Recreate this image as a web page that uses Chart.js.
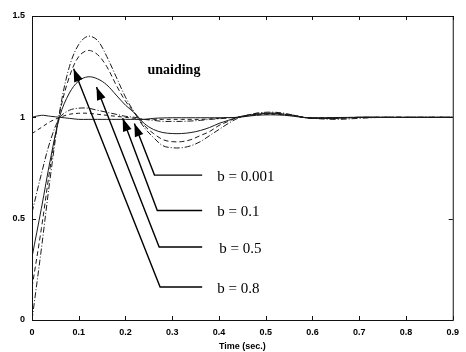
<!DOCTYPE html>
<html>
<head>
<meta charset="utf-8">
<script src="https://cdn.jsdelivr.net/npm/chart.js@4/dist/chart.umd.min.js"></script>
<style>
  html, body { margin: 0; padding: 0; background: #fff; }
  #wrap { width: 466px; height: 352px; }
</style>
</head>
<body>
<div id="wrap"><canvas id="respChart" width="466" height="352"></canvas></div>
<script>
// time axis (sec.)
const times = [0, 0.02, 0.04, 0.06, 0.08, 0.10, 0.12, 0.14, 0.16, 0.18, 0.20, 0.22, 0.24, 0.26, 0.28, 0.30,
    0.32, 0.34, 0.36, 0.38, 0.40, 0.42, 0.44, 0.46, 0.48, 0.50, 0.52, 0.54, 0.56, 0.58, 0.60, 0.65, 0.70, 0.75, 0.80, 0.85, 0.90];

// step responses
const unaiding = [0, 0.35, 0.72, 1.04, 1.25, 1.36, 1.40, 1.38, 1.30, 1.20, 1.10, 1.02, 0.95, 0.90, 0.86, 0.85,
    0.85, 0.86, 0.88, 0.91, 0.94, 0.97, 0.995, 1.01, 1.02, 1.025, 1.025, 1.02, 1.01, 1.0, 0.995, 0.99, 0.995, 1.0, 1.0, 1.0, 1.0];
const resp2 = [0.16, 0.45, 0.77, 1.03, 1.20, 1.30, 1.33, 1.31, 1.25, 1.16, 1.08, 1.02, 0.96, 0.92, 0.89, 0.88,
    0.88, 0.89, 0.91, 0.93, 0.96, 0.98, 1.0, 1.01, 1.02, 1.02, 1.02, 1.015, 1.01, 1.0, 0.995, 0.995, 1.0, 1.0, 1.0, 1.0, 1.0];
const resp3 = [0.31, 0.55, 0.80, 1.01, 1.12, 1.18, 1.20, 1.19, 1.16, 1.11, 1.06, 1.02, 0.97, 0.94, 0.925, 0.92,
    0.92, 0.925, 0.935, 0.95, 0.97, 0.985, 1.0, 1.01, 1.015, 1.02, 1.02, 1.015, 1.01, 1.0, 0.995, 0.995, 1.0, 1.0, 1.0, 1.0, 1.0];
const resp4 = [0.53, 0.72, 0.89, 1.0, 1.035, 1.045, 1.045, 1.035, 1.025, 1.015, 1.005, 1.0, 0.99, 0.985, 0.98, 0.98,
    0.98, 0.982, 0.985, 0.99, 0.993, 0.997, 1.0, 1.008, 1.015, 1.018, 1.018, 1.015, 1.008, 1.0, 0.997, 0.997, 1.0, 1.0, 1.0, 1.0, 1.0];
const resp5 = [0.92, 0.95, 0.98, 1.0, 1.015, 1.02, 1.02, 1.015, 1.01, 1.005, 1.0, 0.995, 0.99, 0.99, 0.99, 0.99,
    0.99, 0.99, 0.99, 0.992, 0.995, 0.998, 1.0, 1.008, 1.012, 1.015, 1.015, 1.012, 1.008, 1.0, 0.997, 0.998, 1.0, 1.0, 1.0, 1.0, 1.0];
const resp6 = [1.0, 1.01, 1.005, 1.0, 0.995, 0.99, 0.99, 0.99, 0.99, 0.99, 0.99, 0.99, 0.99, 0.995, 0.997, 0.998,
    0.998, 0.998, 0.998, 0.998, 0.998, 0.999, 1.0, 1.005, 1.01, 1.012, 1.012, 1.01, 1.005, 1.0, 0.998, 0.999, 1.0, 1.0, 1.0, 1.0, 1.0];

const xTicks = [0, 0.1, 0.2, 0.3, 0.4, 0.5, 0.6, 0.7, 0.8, 0.9];
const yTicks = [0, 0.5, 1, 1.5];

// arrow annotations: tip, knee, end (data units) and the label
const arrowLabels = ['b = 0.001', 'b = 0.1', 'b = 0.5', 'b = 0.8'];
const arrowTips = [[0.219, 0.97], [0.194, 0.995], [0.138, 1.15], [0.089, 1.24]];
const arrowKnees = [[0.262, 0.715], [0.268, 0.54], [0.272, 0.36], [0.274, 0.163]];
const arrowEndX = [0.364, 0.364, 0.364, 0.364];

const series = [unaiding, resp2, resp3, resp4, resp5, resp6];
const dashes = [[6, 2, 1, 2], [5, 3], [], [6, 2, 1, 2], [4, 3], []];

function toPoints(vals) {
    return times.map((t, i) => ({ x: t, y: vals[i] }));
}

const annotate = {
    id: 'annotate',
    afterDatasetsDraw(chart) {
        const { ctx, chartArea: a, scales: { x, y } } = chart;
        ctx.save();
        // frame
        ctx.strokeStyle = '#111';
        ctx.lineWidth = 1;
        ctx.strokeRect(a.left + 0.5, a.top + 0.5, a.right - a.left, a.bottom - a.top);
        // inward tick marks
        ctx.beginPath();
        xTicks.forEach(v => {
            const px = Math.round(x.getPixelForValue(v)) + 0.5;
            ctx.moveTo(px, a.bottom); ctx.lineTo(px, a.bottom - 4);
            ctx.moveTo(px, a.top); ctx.lineTo(px, a.top + 4);
        });
        yTicks.forEach(v => {
            const py = Math.round(y.getPixelForValue(v)) + 0.5;
            ctx.moveTo(a.left, py); ctx.lineTo(a.left + 4, py);
            ctx.moveTo(a.right, py); ctx.lineTo(a.right - 4, py);
        });
        ctx.stroke();

        // arrows
        ctx.lineWidth = 1.4;
        ctx.fillStyle = '#000';
        ctx.strokeStyle = '#000';
        arrowLabels.forEach((lab, i) => {
            const tx = x.getPixelForValue(arrowTips[i][0]), ty = y.getPixelForValue(arrowTips[i][1]);
            const kx = x.getPixelForValue(arrowKnees[i][0]), ky = y.getPixelForValue(arrowKnees[i][1]);
            const ex = x.getPixelForValue(arrowEndX[i]);
            ctx.beginPath();
            ctx.moveTo(tx, ty); ctx.lineTo(kx, ky); ctx.lineTo(ex, ky);
            ctx.stroke();
            const ang = Math.atan2(ty - ky, tx - kx);
            const len = 13, half = 4.5;
            ctx.beginPath();
            ctx.moveTo(tx, ty);
            ctx.lineTo(tx - len * Math.cos(ang) + half * Math.sin(ang), ty - len * Math.sin(ang) - half * Math.cos(ang));
            ctx.lineTo(tx - len * Math.cos(ang) - half * Math.sin(ang), ty - len * Math.sin(ang) + half * Math.cos(ang));
            ctx.closePath();
            ctx.fill();
            ctx.font = '15px "Liberation Serif"';
            ctx.textBaseline = 'middle';
            ctx.fillText(lab, ex + 15 + (i === 2 ? 2 : 0), ky + 2);
        });
        ctx.font = 'bold 14px "Liberation Serif"';
        ctx.textBaseline = 'middle';
        ctx.fillText('unaiding', x.getPixelForValue(0.247), y.getPixelForValue(1.230));
        ctx.restore();
    }
};

new Chart(document.getElementById('respChart').getContext('2d'), {
    type: 'line',
    data: {
        datasets: series.map((s, i) => ({
            data: toPoints(s),
            borderColor: '#1a1a1a',
            borderWidth: 1,
            borderDash: dashes[i],
            pointRadius: 0,
            tension: 0.35,
            fill: false
        }))
    },
    options: {
        responsive: false,
        animation: false,
        layout: { padding: { top: 16, right: 10, left: 0, bottom: 0 } },
        plugins: { legend: { display: false }, tooltip: { enabled: false } },
        scales: {
            x: {
                type: 'linear',
                min: 0,
                max: 0.9,
                afterBuildTicks: s => { s.ticks = xTicks.map(v => ({ value: v })); },
                afterFit: s => { s.height = 32; },
                grid: { display: false, drawTicks: false },
                border: { display: false },
                ticks: {
                    padding: 7,
                    maxRotation: 0,
                    color: '#000',
                    font: { family: 'Liberation Sans', weight: 'bold', size: 9 },
                    callback: v => String(Math.round(v * 10) / 10)
                },
                title: {
                    display: true,
                    text: 'Time (sec.)',
                    color: '#000',
                    padding: { top: 1, bottom: 0 },
                    font: { family: 'Liberation Sans', weight: 'bold', size: 9 }
                }
            },
            y: {
                min: 0,
                max: 1.5,
                afterBuildTicks: s => { s.ticks = yTicks.map(v => ({ value: v })); },
                afterFit: s => { s.width = 32; },
                grid: { display: false, drawTicks: false },
                border: { display: false },
                ticks: {
                    padding: 7,
                    color: '#000',
                    font: { family: 'Liberation Sans', weight: 'bold', size: 9 },
                    callback: v => String(v)
                }
            }
        }
    },
    plugins: [annotate]
});
</script>
</body>
</html>
